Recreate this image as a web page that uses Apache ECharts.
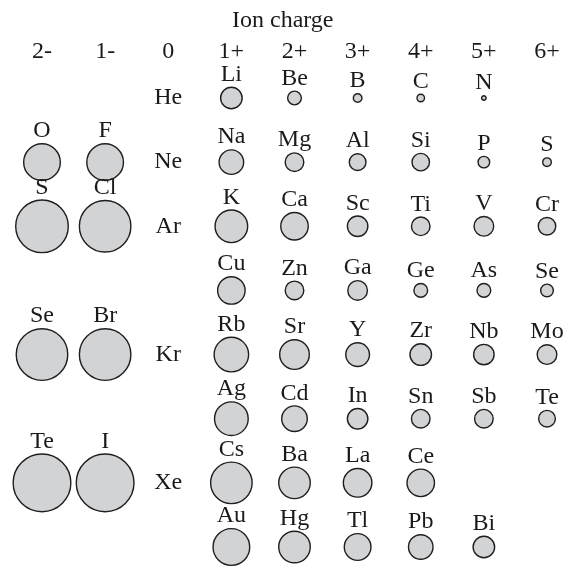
<!DOCTYPE html>
<html>
<head>
<meta charset="utf-8">
<script src="https://cdn.jsdelivr.net/npm/echarts@6/dist/echarts.min.js"></script>
<style>
  html, body { margin: 0; padding: 0; background: #fff; }
  #main { width: 574px; height: 570px; }
</style>
</head>
<body>
<div id="main"></div>
<script>
// ion charge column labels (charge -2 .. +6)
var chargeLabels = ['2-', '1-', '0', '1+', '2+', '3+', '4+', '5+', '6+'];

// ions: symbol, charge, row, radius
var ions    = ['Li', 'Be', 'B', 'C', 'N',
               'O', 'F', 'Na', 'Mg', 'Al', 'Si', 'P', 'S',
               'S', 'Cl', 'K', 'Ca', 'Sc', 'Ti', 'V', 'Cr',
               'Cu', 'Zn', 'Ga', 'Ge', 'As', 'Se',
               'Se', 'Br', 'Rb', 'Sr', 'Y', 'Zr', 'Nb', 'Mo',
               'Ag', 'Cd', 'In', 'Sn', 'Sb', 'Te',
               'Te', 'I', 'Cs', 'Ba', 'La', 'Ce',
               'Au', 'Hg', 'Tl', 'Pb', 'Bi'];
var charges = [1, 2, 3, 4, 5,
               -2, -1, 1, 2, 3, 4, 5, 6,
               -2, -1, 1, 2, 3, 4, 5, 6,
               1, 2, 3, 4, 5, 6,
               -2, -1, 1, 2, 3, 4, 5, 6,
               1, 2, 3, 4, 5, 6,
               -2, -1, 1, 2, 3, 4,
               1, 2, 3, 4, 5];
var rows    = [0, 0, 0, 0, 0,
               1, 1, 1, 1, 1, 1, 1, 1,
               2, 2, 2, 2, 2, 2, 2, 2,
               3, 3, 3, 3, 3, 3,
               4, 4, 4, 4, 4, 4, 4, 4,
               5, 5, 5, 5, 5, 5,
               6, 6, 6, 6, 6, 6,
               7, 7, 7, 7, 7];
var radii   = [0.85, 0.56, 0.37, 0.33, 0.22,
               1.41, 1.41, 0.96, 0.74, 0.67, 0.70, 0.48, 0.37,
               2.00, 1.96, 1.26, 1.07, 0.81, 0.74, 0.78, 0.70,
               1.07, 0.74, 0.78, 0.56, 0.56, 0.52,
               1.96, 1.96, 1.33, 1.15, 0.93, 0.85, 0.81, 0.78,
               1.30, 1.00, 0.81, 0.74, 0.74, 0.67,
               2.19, 2.19, 1.59, 1.22, 1.11, 1.07,
               1.41, 1.22, 1.04, 0.96, 0.85];

// noble gases in the 0 column
var nobleGases = ['He', 'Ne', 'Ar', 'Kr', 'Xe'];
var nobleRows  = [0, 1, 2, 4, 6];

var FONT = '"Liberation Serif", "DejaVu Serif", serif';
var PX_PER_A = 27; // circle diameter in px per angstrom of radius

var ionData = [];
for (var i = 0; i < ions.length; i++) {
    ionData.push({ name: ions[i], value: [charges[i], rows[i], radii[i]] });
}
var nobleData = [];
for (var j = 0; j < nobleGases.length; j++) {
    nobleData.push({ name: nobleGases[j], value: [0, nobleRows[j]] });
}

var option = {
    backgroundColor: '#fff',
    animation: false,
    title: {
        text: 'Ion charge',
        left: 227,
        top: 4,
        textStyle: { fontFamily: FONT, fontSize: 24, fontWeight: 'normal', color: '#1a1a1a' }
    },
    grid: { left: 42, right: 27, top: 98, bottom: 23 },
    xAxis: {
        type: 'value',
        position: 'top',
        min: -2,
        max: 6,
        interval: 1,
        axisLine: { show: false },
        axisTick: { show: false },
        splitLine: { show: false },
        axisLabel: {
            margin: 34,
            fontFamily: FONT,
            fontSize: 24,
            color: '#1a1a1a',
            formatter: function (v) { return chargeLabels[v + 2]; }
        }
    },
    yAxis: {
        type: 'value',
        inverse: true,
        min: 0,
        max: 7,
        show: false
    },
    series: [
        {
            type: 'scatter',
            data: ionData,
            symbol: 'circle',
            symbolSize: function (v) { return v[2] * PX_PER_A - 1.4; },
            itemStyle: { color: '#d2d3d5', borderColor: '#1e1e1e', borderWidth: 1.4, opacity: 1 },
            label: {
                show: true,
                position: 'top',
                distance: 0,
                formatter: '{b}',
                fontFamily: FONT,
                fontSize: 24,
                color: '#1a1a1a'
            }
        },
        {
            type: 'scatter',
            data: nobleData,
            symbolSize: 1,
            itemStyle: { color: 'rgba(0,0,0,0)', opacity: 1 },
            label: {
                show: true,
                position: 'inside',
                formatter: '{b}',
                fontFamily: FONT,
                fontSize: 24,
                color: '#1a1a1a'
            }
        }
    ]
};

var myChart = echarts.init(document.getElementById('main'));
myChart.setOption(option);
</script>
</body>
</html>
